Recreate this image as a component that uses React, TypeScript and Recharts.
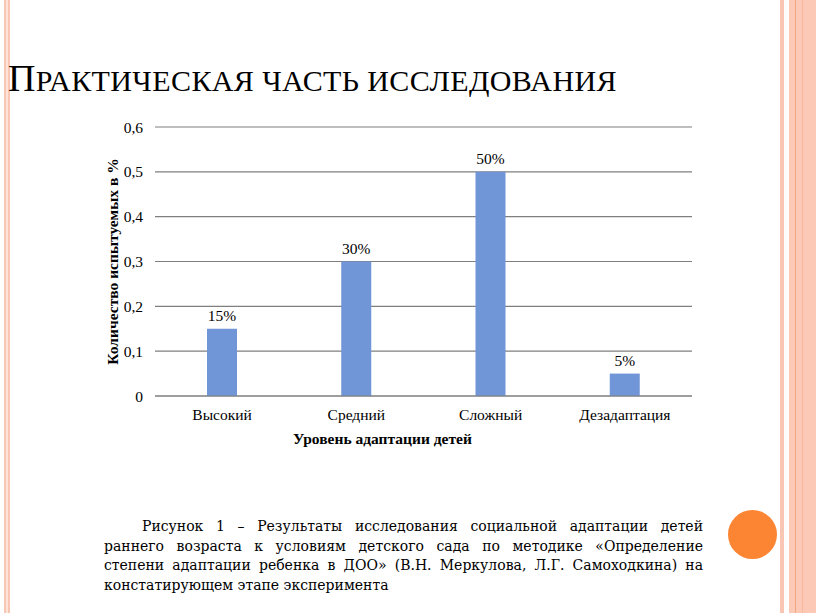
import { BarChart, Bar, XAxis, YAxis, CartesianGrid, LabelList } from "recharts";

// уровни адаптации и доли испытуемых
const levels = ["Высокий", "Средний", "Сложный", "Дезадаптация"];
const shares = [0.15, 0.3, 0.5, 0.05];
const yTicks = [0, 0.1, 0.2, 0.3, 0.4, 0.5, 0.6];

const captionLines = [
  "Рисунок 1 – Результаты исследования социальной адаптации детей",
  "раннего возраста к условиям детского сада по методике «Определение",
  "степени адаптации ребенка в ДОО» (В.Н. Меркулова, Л.Г. Самоходкина) на",
  "констатирующем этапе эксперимента",
];

const data = levels.map((name, i) => ({ name, value: shares[i] }));

const serif = "'Liberation Serif', 'Times New Roman', serif";

const fmtTick = (v: number) => (v === 0 ? "0" : v.toFixed(1).replace(".", ","));
const fmtPct = (v: any) => `${Math.round(Number(v) * 100)}%`;

const YTitle = (props: any) => {
  const { viewBox } = props;
  const cx = viewBox.x + 12;
  const cy = viewBox.y + viewBox.height / 2;
  return (
    <text
      x={cx}
      y={cy}
      transform={`rotate(-90, ${cx}, ${cy})`}
      textAnchor="middle"
      dominantBaseline="central"
      fontFamily={serif}
      fontWeight="bold"
      fontSize={15.5}
      fill="#000"
    >
      Количество испытуемых в %
    </text>
  );
};

const XTitle = (props: any) => {
  const { viewBox } = props;
  const cx = viewBox.x + viewBox.width / 2 - 41;
  return (
    <text
      x={cx}
      y={viewBox.y + 42}
      textAnchor="middle"
      dominantBaseline="central"
      fontFamily={serif}
      fontWeight="bold"
      fontSize={15.5}
      fill="#000"
    >
      Уровень адаптации детей
    </text>
  );
};

const App = () => {
  return (
    <div
      style={{
        position: "absolute",
        left: 0,
        top: 0,
        width: 816,
        height: 613,
        background: "#fff",
        overflow: "hidden",
      }}
    >
      {/* полосы по краям слайда */}
      <div style={{ position: "absolute", left: 4, top: 0, width: 6, height: 613, background: "#f9c6b4" }} />
      <div style={{ position: "absolute", left: 6, top: 0, width: 2, height: 613, background: "#fde3d8" }} />
      <div style={{ position: "absolute", left: 780, top: 0, width: 4, height: 613, background: "#f9c6b4" }} />
      <div style={{ position: "absolute", left: 789, top: 0, width: 27, height: 613, background: "#fcc9b6" }} />
      <div style={{ position: "absolute", left: 795, top: 0, width: 1, height: 613, background: "#f2a783" }} />
      <div style={{ position: "absolute", left: 802, top: 0, width: 1, height: 613, background: "#f7b89c" }} />

      <div
        style={{
          position: "absolute",
          left: 8,
          top: 58,
          fontFamily: serif,
          lineHeight: "40px",
          color: "#000",
          whiteSpace: "nowrap",
          letterSpacing: 0.4,
        }}
      >
        <span style={{ fontSize: 38 }}>П</span>
        <span style={{ fontSize: 30 }}>РАКТИЧЕСКАЯ ЧАСТЬ ИССЛЕДОВАНИЯ</span>
      </div>

      <div style={{ position: "absolute", left: 95, top: 110 }}>
        <BarChart
          width={610}
          height={345}
          data={data}
          margin={{ top: 17, right: 13, bottom: 0, left: 5 }}
          barSize={30}
        >
          <CartesianGrid vertical={false} stroke="#7f7f7f" strokeWidth={1.2} />
          <XAxis
            dataKey="name"
            axisLine={{ stroke: "#7f7f7f", strokeWidth: 1.2 }}
            tickLine={false}
            tickMargin={7}
            height={59}
            interval={0}
            tick={{ fontFamily: serif, fontSize: 15.5, fill: "#000" }}
            label={<XTitle />}
          />
          <YAxis
            domain={[0, 0.6]}
            ticks={yTicks}
            tickFormatter={fmtTick}
            axisLine={false}
            tickLine={false}
            tickMargin={6}
            width={55}
            tick={{ fontFamily: serif, fontSize: 15.5, fill: "#000" }}
            label={<YTitle />}
          />
          <Bar dataKey="value" fill="#7096d8" isAnimationActive={false}>
            <LabelList
              dataKey="value"
              position="top"
              offset={8}
              formatter={fmtPct}
              style={{ fontFamily: serif, fontSize: 15.5, fill: "#000" }}
            />
          </Bar>
        </BarChart>
      </div>

      <div
        style={{
          position: "absolute",
          left: 104,
          top: 517,
          width: 599,
          fontFamily: "'DejaVu Serif', serif",
          fontSize: 14,
          lineHeight: "19.5px",
          color: "#000",
        }}
      >
        {captionLines.map((line, i) => (
          <div
            key={i}
            style={{
              textAlign: "justify",
              textAlignLast: i < captionLines.length - 1 ? "justify" : "left",
              paddingLeft: i === 0 ? 38 : 0,
              whiteSpace: "nowrap",
            }}
          >
            {line}
          </div>
        ))}
      </div>

      <div
        style={{
          position: "absolute",
          left: 728,
          top: 510,
          width: 49,
          height: 49,
          borderRadius: "50%",
          background: "#fb8533",
        }}
      />
    </div>
  );
};

export default App;
